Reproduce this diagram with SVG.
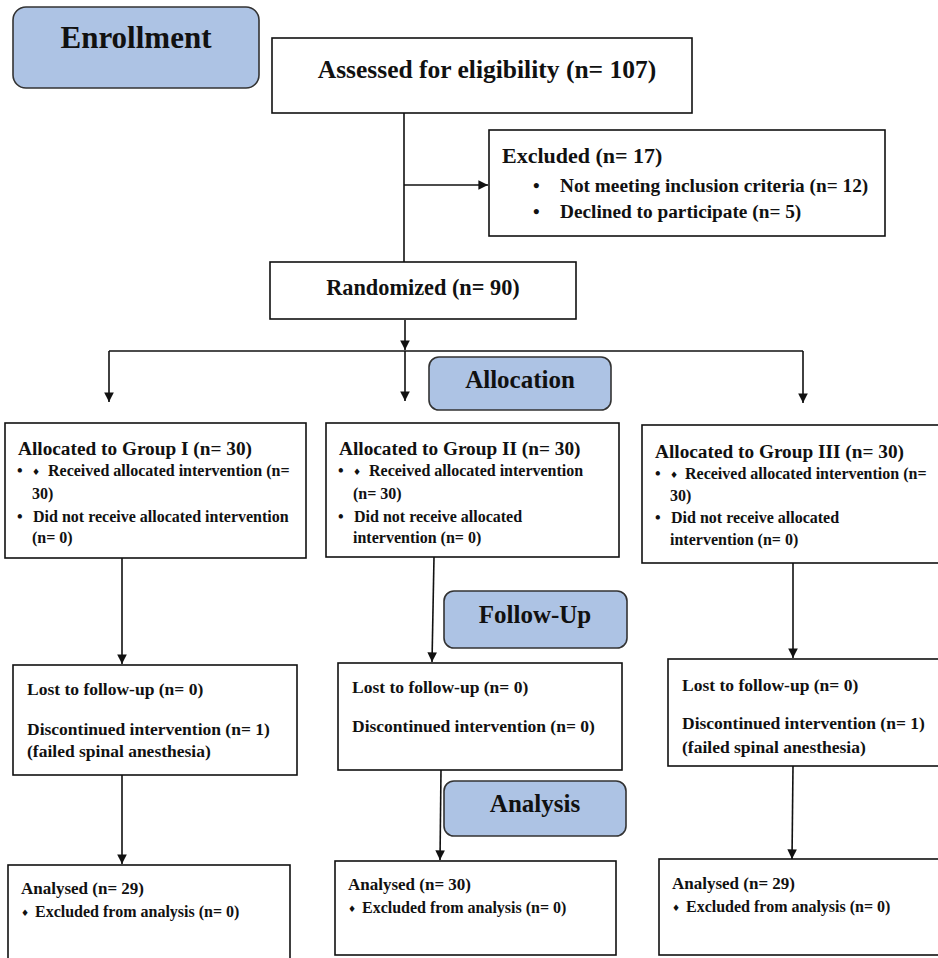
<svg xmlns="http://www.w3.org/2000/svg" width="938" height="958" viewBox="0 0 938 958">
<style>
.box{fill:#fff;stroke:#111;stroke-width:1.6}
.stage{fill:#adc3e4;stroke:#333;stroke-width:1.6}
.t{font-family:"Liberation Serif","Times New Roman",serif;font-weight:bold;fill:#111}
.line{stroke:#111;stroke-width:1.6;fill:none}
.arr{stroke:#111;stroke-width:1.6;fill:none;marker-end:url(#ah)}
.dia{font-family:"DejaVu Sans",sans-serif;font-size:9px}
</style>
<defs>
<marker id="ah" viewBox="0 0 10 10" refX="10" refY="5" markerWidth="6" markerHeight="6" orient="auto" markerUnits="strokeWidth">
<path d="M0,0 L10,5 L0,10 z" fill="#111"/>
</marker>
<clipPath id="c3l"><rect x="668" y="659" width="270" height="99"/></clipPath>
</defs>
<g id="connectors">
<line class="line" x1="404" y1="113" x2="404" y2="262"/>
<line class="arr" x1="404" y1="185" x2="488" y2="185"/>
<line class="arr" x1="405" y1="320" x2="405" y2="350"/>
<line class="line" x1="109" y1="351" x2="803" y2="351"/>
<line class="arr" x1="109" y1="351" x2="109" y2="402"/>
<line class="arr" x1="405" y1="351" x2="405" y2="401"/>
<line class="arr" x1="803" y1="351" x2="803" y2="403"/>
<line class="arr" x1="122" y1="558" x2="122" y2="664"/>
<line class="arr" x1="434" y1="557" x2="432" y2="662"/>
<line class="arr" x1="793" y1="563" x2="793" y2="658"/>
<line class="arr" x1="122" y1="775" x2="122" y2="864"/>
<line class="arr" x1="441" y1="770" x2="440" y2="860"/>
<line class="arr" x1="793" y1="766" x2="792" y2="859"/>
</g>
<g id="enrollment">
<rect class="stage" x="13" y="7" width="246" height="81" rx="13"/>
<text class="t" x="136" y="48" font-size="31" text-anchor="middle">Enrollment</text>
</g>
<g id="assessed">
<rect class="box" x="272" y="38" width="420" height="75"/>
<text class="t" x="487" y="78" font-size="25.5" text-anchor="middle">Assessed for eligibility (n= 107)</text>
</g>
<g id="excluded">
<rect class="box" x="489" y="130" width="396" height="106"/>
<text class="t" x="502" y="163" font-size="22">Excluded (n= 17)</text>
<text class="t" x="533" y="192" font-size="19">•</text>
<text class="t" x="560" y="192" font-size="19.3">Not meeting inclusion criteria (n= 12)</text>
<text class="t" x="533" y="218" font-size="19">•</text>
<text class="t" x="560" y="218" font-size="19.3">Declined to participate (n= 5)</text>
</g>
<g id="randomized">
<rect class="box" x="270" y="262" width="306" height="57"/>
<text class="t" x="423" y="295" font-size="22.3" text-anchor="middle">Randomized (n= 90)</text>
</g>
<g id="allocation">
<rect class="stage" x="429" y="357" width="182" height="53" rx="10"/>
<text class="t" x="520" y="388" font-size="25" text-anchor="middle">Allocation</text>
</g>
<g id="group1-alloc">
<rect class="box" x="5" y="423" width="301" height="135"/>
<text class="t" x="18" y="455" font-size="19.3">Allocated to Group I (n= 30)</text>
<text class="t" x="17" y="476" font-size="16">•</text>
<text class="t dia" x="32" y="475">♦</text>
<text class="t" x="48" y="476" font-size="16">Received allocated intervention (n=</text>
<text class="t" x="32" y="499" font-size="16">30)</text>
<text class="t" x="17" y="522" font-size="16">•</text>
<text class="t" x="33" y="522" font-size="16">Did not receive allocated intervention</text>
<text class="t" x="32" y="543" font-size="16">(n= 0)</text>
</g>
<g id="group2-alloc">
<rect class="box" x="326" y="423" width="293" height="134"/>
<text class="t" x="339" y="455" font-size="19.3">Allocated to Group II (n= 30)</text>
<text class="t" x="338" y="476" font-size="16">•</text>
<text class="t dia" x="353" y="475">♦</text>
<text class="t" x="369" y="476" font-size="16">Received allocated intervention</text>
<text class="t" x="353" y="499" font-size="16">(n= 30)</text>
<text class="t" x="338" y="522" font-size="16">•</text>
<text class="t" x="354" y="522" font-size="16">Did not receive allocated</text>
<text class="t" x="353" y="543" font-size="16">intervention (n= 0)</text>
</g>
<g id="group3-alloc">
<rect class="box" x="642" y="425" width="300" height="138"/>
<text class="t" x="655" y="458" font-size="19.3">Allocated to Group III (n= 30)</text>
<text class="t" x="655" y="479" font-size="16">•</text>
<text class="t dia" x="670" y="478">♦</text>
<text class="t" x="685" y="479" font-size="16">Received allocated intervention (n=</text>
<text class="t" x="670" y="501" font-size="16">30)</text>
<text class="t" x="655" y="523" font-size="16">•</text>
<text class="t" x="671" y="523" font-size="16">Did not receive allocated</text>
<text class="t" x="670" y="545" font-size="16">intervention (n= 0)</text>
</g>
<g id="followup">
<rect class="stage" x="444" y="591" width="183" height="57" rx="10"/>
<text class="t" x="535" y="623" font-size="25" text-anchor="middle">Follow-Up</text>
</g>
<g id="group1-lost">
<rect class="box" x="13" y="665" width="284" height="110"/>
<text class="t" x="27" y="695" font-size="17.5">Lost to follow-up (n= 0)</text>
<text class="t" x="27" y="735" font-size="17.5">Discontinued intervention (n= 1)</text>
<text class="t" x="27" y="757" font-size="17.5">(failed spinal anesthesia)</text>
</g>
<g id="group2-lost">
<rect class="box" x="338" y="663" width="284" height="107"/>
<text class="t" x="352" y="693" font-size="17.5">Lost to follow-up (n= 0)</text>
<text class="t" x="352" y="732" font-size="17.5">Discontinued intervention (n= 0)</text>
</g>
<g id="group3-lost">
<rect class="box" x="668" y="659" width="280" height="107"/>
<text class="t" x="682" y="691" font-size="17.5">Lost to follow-up (n= 0)</text>
<text class="t" x="682" y="729" font-size="17.5">Discontinued intervention (n= 1)</text>
<text class="t" x="682" y="753" font-size="17.5" clip-path="url(#c3l)">(failed spinal anesthesia)</text>
</g>
<g id="analysis">
<rect class="stage" x="444" y="781" width="182" height="55" rx="10"/>
<text class="t" x="535" y="812" font-size="25" text-anchor="middle">Analysis</text>
</g>
<g id="group1-analysed">
<rect class="box" x="8" y="865" width="282" height="100"/>
<text class="t" x="21" y="894" font-size="17">Analysed (n= 29)</text>
<text class="t dia" x="21" y="916">♦</text>
<text class="t" x="35" y="917" font-size="16">Excluded from analysis (n= 0)</text>
</g>
<g id="group2-analysed">
<rect class="box" x="335" y="861" width="281" height="94"/>
<text class="t" x="348" y="890" font-size="17">Analysed (n= 30)</text>
<text class="t dia" x="348" y="912">♦</text>
<text class="t" x="362" y="913" font-size="16">Excluded from analysis (n= 0)</text>
</g>
<g id="group3-analysed">
<rect class="box" x="659" y="859" width="285" height="96"/>
<text class="t" x="672" y="889" font-size="17">Analysed (n= 29)</text>
<text class="t dia" x="672" y="911">♦</text>
<text class="t" x="686" y="912" font-size="16">Excluded from analysis (n= 0)</text>
</g>
</svg>
